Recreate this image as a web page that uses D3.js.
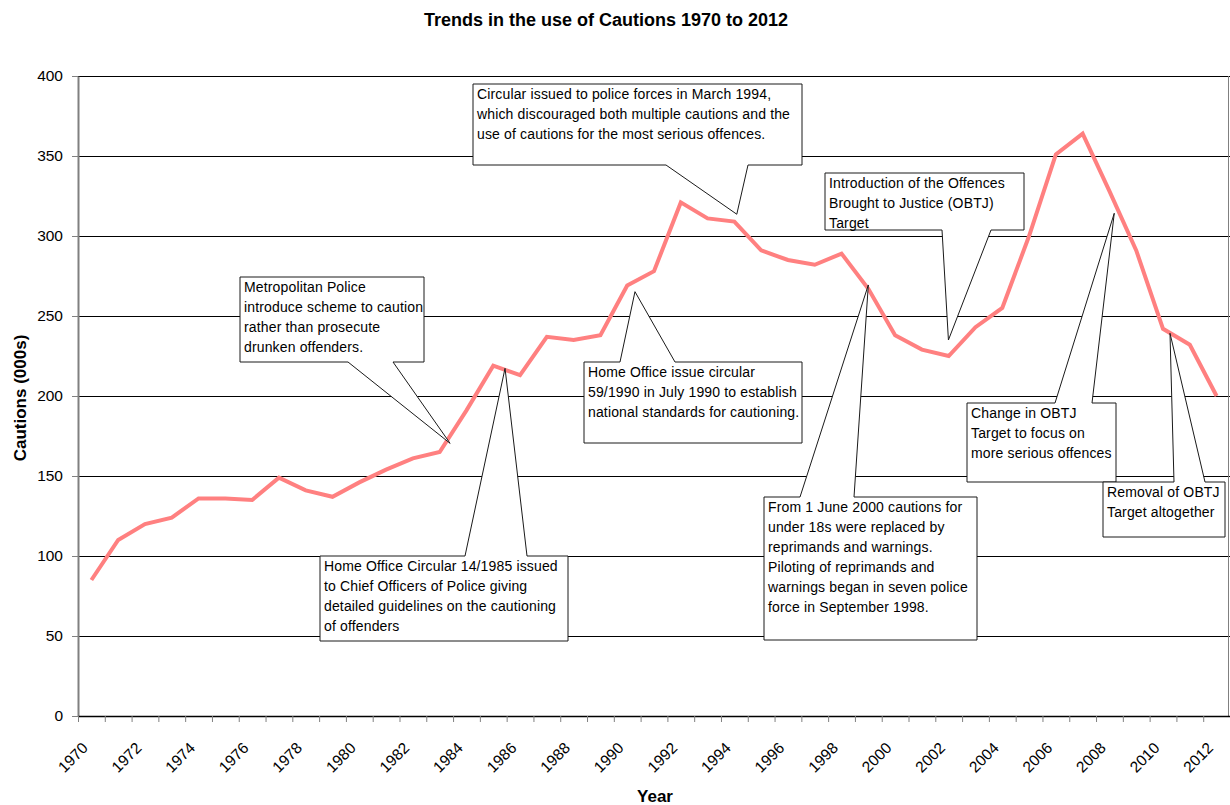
<!DOCTYPE html>
<html>
<head>
<meta charset="utf-8">
<script src="https://cdn.jsdelivr.net/npm/d3@7"></script>
<style>
  body { margin: 0; background: #fff; }
  svg { display: block; font-family: Arial, "Liberation Sans", sans-serif; }
</style>
</head>
<body>
<div id="chart"></div>
<script>
// Trends in the use of Cautions 1970 to 2012 (thousands)
const years = d3.range(1970, 2013);
const cautions = [
  85, 110, 120, 124, 136, 136, 135, 149, 141, 137,
  146, 154, 161, 165, 191, 219, 213, 237, 235, 238,
  269, 278, 321, 311, 309, 291, 285, 282, 289, 267,
  238, 229, 225, 243, 255, 300, 351, 364, 328, 291,
  242, 232, 200
];
const yTicks = [0, 50, 100, 150, 200, 250, 300, 350, 400];
const labelYears = years.filter(y => y % 2 === 0);

// callouts: tip in data units, box in pixels, wedge on top or bottom edge
const callouts = [
  { tip: [1983.39, 170.4], box: [240, 277, 424, 362], edge: 'bottom', at: [348, 393],
    lines: ['Metropolitan Police', 'introduce scheme to caution', 'rather than prosecute', 'drunken offenders.'] },
  { tip: [1985.44, 217.3], box: [320, 556, 568, 641], edge: 'top', at: [465, 527],
    lines: ['Home Office Circular 14/1985 issued', 'to Chief Officers of Police giving', 'detailed guidelines on the cautioning', 'of offenders'] },
  { tip: [1990.29, 265.2], box: [584, 362, 802, 443], edge: 'top', at: [620, 675],
    lines: ['Home Office issue circular', '59/1990 in July 1990 to establish', 'national standards for cautioning.'] },
  { tip: [1994.09, 313.6], box: [473, 84, 802, 165], edge: 'bottom', at: [666, 748],
    lines: ['Circular issued to police forces in March 1994,', 'which discouraged both multiple cautions and the', 'use of cautions for the most serious offences.'] },
  { tip: [2001.99, 235], box: [825, 173, 1024, 230], edge: 'bottom', at: [942, 991],
    lines: ['Introduction of the Offences', 'Brought to Justice (OBTJ)', 'Target'] },
  { tip: [1999.0, 269.4], box: [764, 497, 977, 640], edge: 'top', at: [800, 854],
    lines: ['From 1 June 2000 cautions for', 'under 18s were replaced by', 'reprimands and warnings.', 'Piloting of reprimands and', 'warnings began in seven police', 'force in September 1998.'] },
  { tip: [2008.18, 314.2], box: [967, 403, 1116, 482], edge: 'top', at: [1055, 1092],
    lines: ['Change in OBTJ', 'Target to focus on', 'more serious offences'] },
  { tip: [2010.26, 239.2], box: [1103, 482, 1225, 537], edge: 'top', at: [1174, 1205],
    lines: ['Removal of OBTJ', 'Target altogether'] }
];

const W = 1230, H = 805;
const PLOT = { left: 78, right: 1230, top: 76, bottom: 716 };

const svg = d3.select('#chart').append('svg')
  .attr('width', W).attr('height', H);

svg.append('rect').attr('width', W).attr('height', H).attr('fill', '#fff');

const x = d3.scaleLinear().domain([1969.5, 2012.5]).range([PLOT.left, PLOT.right]);
const y = d3.scaleLinear().domain([0, 400]).range([PLOT.bottom, PLOT.top]);

// gridlines
svg.append('g')
  .selectAll('line')
  .data(yTicks.filter(d => d > 0))
  .join('line')
  .attr('x1', PLOT.left).attr('x2', PLOT.right)
  .attr('y1', d => Math.round(y(d)) + 0.5).attr('y2', d => Math.round(y(d)) + 0.5)
  .attr('stroke', '#000').attr('stroke-width', 1);

// right border of plot area
svg.append('line')
  .attr('x1', PLOT.right - 1.5).attr('x2', PLOT.right - 1.5)
  .attr('y1', PLOT.top).attr('y2', PLOT.bottom)
  .attr('stroke', '#808080').attr('stroke-width', 1);

// data line
const line = d3.line().x((d, i) => x(years[i])).y(d => y(d));
svg.append('path')
  .datum(cautions)
  .attr('d', line)
  .attr('fill', 'none')
  .attr('stroke', '#ff8080')
  .attr('stroke-width', 4)
  .attr('stroke-linejoin', 'miter');

// callouts
function calloutPath(c) {
  const [l, t, r, b] = c.box;
  const tx = x(c.tip[0]), ty = y(c.tip[1]);
  const [a1, a2] = c.at;
  const pts = [[l, t]];
  if (c.edge === 'top') pts.push([a1, t], [tx, ty], [a2, t]);
  pts.push([r, t], [r, b]);
  if (c.edge === 'bottom') pts.push([a2, b], [tx, ty], [a1, b]);
  pts.push([l, b]);
  return 'M' + pts.map(p => p.join(',')).join('L') + 'Z';
}

const cg = svg.append('g').selectAll('g').data(callouts).join('g');
cg.append('path')
  .attr('d', calloutPath)
  .attr('fill', '#fff')
  .attr('stroke', '#1a1a1a')
  .attr('stroke-width', 1);
cg.append('text')
  .attr('font-size', 14)
  .attr('letter-spacing', 0.15)
  .attr('fill', '#000')
  .selectAll('tspan')
  .data(c => c.lines.map((s, i) => ({ s, i, c })))
  .join('tspan')
  .attr('x', d => d.c.box[0] + 4)
  .attr('y', d => d.c.box[1] + 15 + d.i * 20)
  .text(d => d.s);

// y axis
const yAxis = svg.append('g')
  .attr('transform', `translate(${PLOT.left},0)`)
  .call(d3.axisLeft(y).tickValues(yTicks).tickSize(6).tickPadding(9).tickSizeOuter(0));
yAxis.select('.domain').attr('stroke', '#808080').attr('stroke-width', 2);
yAxis.selectAll('.tick line').attr('stroke', '#808080');
yAxis.selectAll('.tick text').attr('font-size', 15.5).attr('fill', '#000').attr('font-family', null);

// x axis (ticks between categories)
const xAxis = svg.append('g')
  .attr('transform', `translate(0,${PLOT.bottom})`)
  .call(d3.axisBottom(x).tickValues(d3.range(1969.5, 2013, 1)).tickSize(6).tickFormat('').tickSizeOuter(0));
xAxis.select('.domain').attr('stroke', '#000').attr('stroke-width', 1.5);
xAxis.selectAll('.tick line').attr('stroke', '#808080');

svg.append('g')
  .selectAll('text')
  .data(labelYears)
  .join('text')
  .attr('transform', d => `translate(${x(d) - 2.5},749) rotate(-45)`)
  .attr('text-anchor', 'end')
  .attr('font-size', 15.5)
  .text(d => d);

// titles
svg.append('text')
  .attr('x', 606).attr('y', 26)
  .attr('text-anchor', 'middle')
  .attr('font-size', 18).attr('font-weight', 'bold')
  .text('Trends in the use of Cautions 1970 to 2012');

svg.append('text')
  .attr('transform', 'translate(26,398) rotate(-90)')
  .attr('text-anchor', 'middle')
  .attr('font-size', 17).attr('font-weight', 'bold')
  .text('Cautions (000s)');

svg.append('text')
  .attr('x', 655).attr('y', 802)
  .attr('text-anchor', 'middle')
  .attr('font-size', 17).attr('font-weight', 'bold')
  .text('Year');
</script>
</body>
</html>
